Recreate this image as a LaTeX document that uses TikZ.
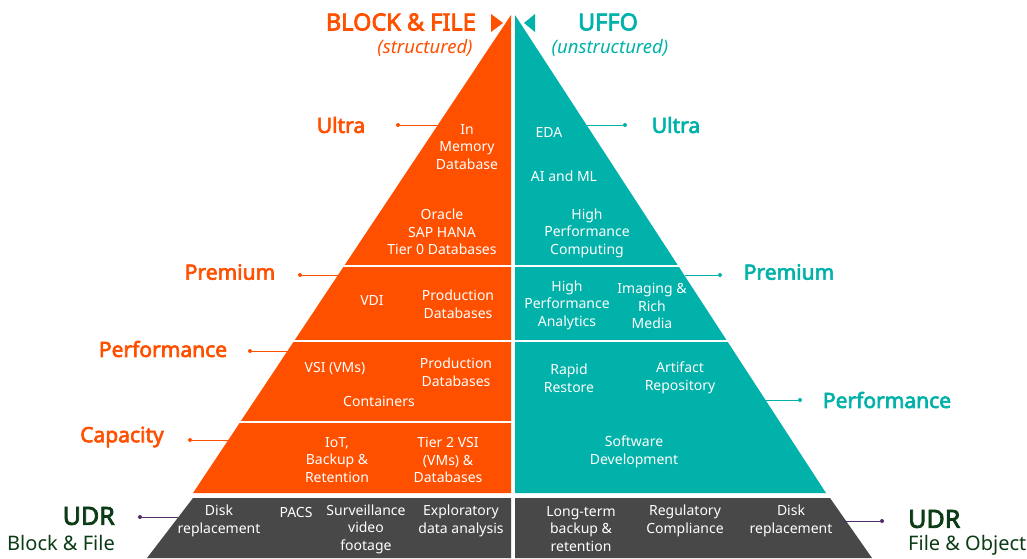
\documentclass[tikz,border=0pt]{standalone}
\usepackage{fontspec}
\setmainfont{Noto Sans}
\newfontfamily\heavyfont{Noto Sans}[FakeBold=3]
\usepackage{tikz}

\begin{document}
\begin{tikzpicture}[x=1pt,y=-1pt,
  inner/.style={text=white,align=center,inner sep=0pt,font=\fontsize{14}{17.5}\selectfont},
  tier/.style={inner sep=0pt,font=\fontsize{21}{25}\selectfont\heavyfont},
  head/.style={inner sep=0pt,font=\fontsize{23.5}{27}\selectfont\heavyfont},
  sub/.style={inner sep=0pt,font=\fontsize{18.5}{22}\selectfont\itshape},
  udr/.style={inner sep=0pt,text=udrColor,font=\fontsize{25}{29}\selectfont\heavyfont},
  udrsub/.style={inner sep=0pt,text=udrColor,font=\fontsize{20}{24}\selectfont},
  dot/.style={circle,fill,inner sep=0pt,minimum size=4pt},
  link/.style={line width=1pt}]
\definecolor{orangeColor}{RGB}{255,80,0}
\definecolor{tealColor}{RGB}{0,178,169}
\definecolor{grayColor}{RGB}{72,72,72}
\definecolor{udrColor}{RGB}{12,60,22}
\definecolor{udrLink}{RGB}{80,45,105}
\path[use as bounding box,fill=white] (0,0) rectangle (1027,558);

% the two halves
\fill[orangeColor] (511,15) -- (511,493) -- (193,493) -- cycle;
\fill[tealColor] (515,15) -- (826,493) -- (515,493) -- cycle;
\foreach \y in {266,341,422}
  \draw[white,line width=2pt] (180,\y) -- (512,\y);
\foreach \y in {266,341}
  \draw[white,line width=2pt] (514,\y) -- (840,\y);

% UDR band
\fill[grayColor] (193,498) -- (511,498) -- (511,558) -- (147,558) -- cycle;
\fill[grayColor] (515,498) -- (830,498) -- (872,558) -- (515,558) -- cycle;

% markers at the top
\fill[orangeColor] (491,14) -- (503,23) -- (491,32) -- cycle;
\fill[tealColor] (535,14) -- (524,23) -- (535,32) -- cycle;

% titles
\node[head,text=orangeColor,anchor=east] (blockfile) at (476,22) {BLOCK \& FILE};
\node[sub,text=orangeColor] (structured) at (425,48) {(structured)};
\node[head,text=tealColor] (uffo) at (608,22) {UFFO};
\node[sub,text=tealColor] (unstructured) at (610,48) {(unstructured)};

% tiers, block & file side
\node[tier,text=orangeColor] (ultraL) at (341,125) {Ultra};
\node[tier,text=orangeColor] (premiumL) at (230,272) {Premium};
\node[tier,text=orangeColor] (performanceL) at (163,349) {Performance};
\node[tier,text=orangeColor] (capacityL) at (122,437) {Capacity};
\node[dot,fill=orangeColor] (ultraL dot) at (398,125) {};
\node[dot,fill=orangeColor] (premiumL dot) at (300,275) {};
\node[dot,fill=orangeColor] (performanceL dot) at (250,351) {};
\node[dot,fill=orangeColor] (capacityL dot) at (190,440) {};
\coordinate (ultraL edge) at (438,125);
\coordinate (premiumL edge) at (339,275);
\coordinate (performanceL edge) at (290,351);
\coordinate (capacityL edge) at (228,440);
\draw[link,orangeColor] (ultraL dot) -- (ultraL edge);
\draw[link,orangeColor] (premiumL dot) -- (premiumL edge);
\draw[link,orangeColor] (performanceL dot) -- (performanceL edge);
\draw[link,orangeColor] (capacityL dot) -- (capacityL edge);

% tiers, UFFO side
\node[tier,text=tealColor] (ultraR) at (676,125) {Ultra};
\node[tier,text=tealColor] (premiumR) at (789,272) {Premium};
\node[tier,text=tealColor] (performanceR) at (887,400) {Performance};
\node[dot,fill=tealColor] (ultraR dot) at (625,125) {};
\node[dot,fill=tealColor] (premiumR dot) at (720,275) {};
\node[dot,fill=tealColor] (performanceR dot) at (800,400) {};
\coordinate (ultraR edge) at (586,125);
\coordinate (premiumR edge) at (685,275);
\coordinate (performanceR edge) at (765,400);
\draw[link,tealColor] (ultraR edge) -- (ultraR dot);
\draw[link,tealColor] (premiumR edge) -- (premiumR dot);
\draw[link,tealColor] (performanceR edge) -- (performanceR dot);

% UDR labels
\node[udr,anchor=east] (udrL) at (115,516) {UDR};
\node[udrsub,anchor=east] (udrL sub) at (115,543) {Block \& File};
\node[udr,anchor=west] (udrR) at (908,519) {UDR};
\node[udrsub,anchor=west] (udrR sub) at (908,545) {File \& Object};
\node[dot,fill=udrLink] (udrL dot) at (140,517) {};
\node[dot,fill=udrLink] (udrR dot) at (882,521) {};
\coordinate (udrL edge) at (178,517);
\coordinate (udrR edge) at (843,521);
\draw[link,udrLink] (udrL dot) -- (udrL edge);
\draw[link,udrLink] (udrR edge) -- (udrR dot);

% workloads, block & file
\node[inner] (inmemory) at (467,147) {In\\Memory\\Database};
\node[inner] (oracle) at (442,232) {Oracle\\SAP HANA\\Tier 0 Databases};
\node[inner] (vdi) at (372,300) {VDI};
\node[inner] (proddb1) at (458,304) {Production\\Databases};
\node[inner] (vsi) at (335,369) {VSI (VMs)};
\node[inner] (proddb2) at (456,372) {Production\\Databases};
\node[inner] (containers) at (379,401) {Containers};
\node[inner] (iot) at (337,460) {IoT,\\Backup \&\\Retention};
\node[inner] (tier2) at (448,460) {Tier 2 VSI\\(VMs) \&\\Databases};

% workloads, UFFO
\node[inner] (eda) at (549,132) {EDA};
\node[inner] (aiml) at (564,176) {AI and ML};
\node[inner] (hpc) at (587,233) {High\\Performance\\Computing};
\node[inner] (hpa) at (567,305) {High\\Performance\\Analytics};
\node[inner] (imaging) at (652,306) {Imaging \&\\Rich\\Media};
\node[inner] (rapid) at (569,378) {Rapid\\Restore};
\node[inner] (artifact) at (680,378) {Artifact\\Repository};
\node[inner] (software) at (634,452) {Software\\Development};

% workloads, UDR
\node[inner] (diskL) at (219,521) {Disk\\replacement};
\node[inner] (pacs) at (296,512) {PACS};
\node[inner] (surveillance) at (366,529) {Surveillance\\video\\footage};
\node[inner] (exploratory) at (461,521) {Exploratory\\data analysis};
\node[inner] (longterm) at (581,529) {Long-term\\backup \&\\retention};
\node[inner] (regulatory) at (685,521) {Regulatory\\Compliance};
\node[inner] (diskR) at (791,521) {Disk\\replacement};
\end{tikzpicture}
\end{document}
